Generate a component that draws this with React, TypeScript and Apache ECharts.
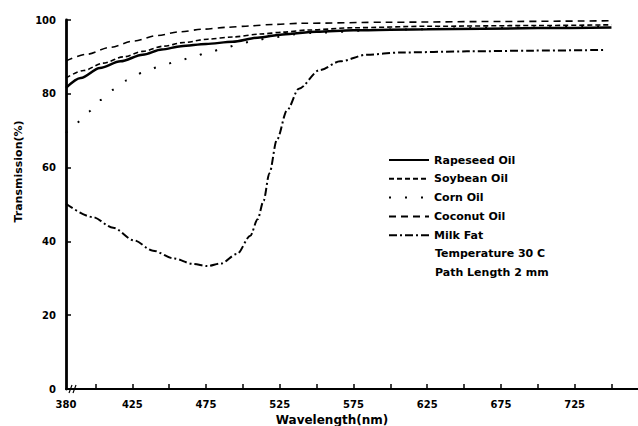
import React, { useEffect, useRef } from "react";
import * as echarts from "echarts";

// Wavelength (nm) and transmission (%)
const rapeseedX = [380, 390, 403, 417, 432, 445, 458, 475, 493, 510, 527, 550, 575, 625, 700, 750];
const rapeseedY = [81.6, 84.3, 87.0, 88.8, 90.6, 92.0, 92.9, 93.5, 94.1, 95.2, 96.1, 96.8, 97.2, 97.5, 97.8, 98.0];

const soybeanX = [380, 392, 405, 419, 432, 446, 460, 476, 493, 512, 527, 545, 575, 625, 700, 750];
const soybeanY = [84.3, 86.3, 88.3, 90.0, 91.5, 92.9, 93.9, 94.8, 95.4, 96.2, 96.7, 97.3, 97.9, 98.3, 98.5, 98.7];

const cornX = [380, 387, 395, 403, 412, 421, 432, 443, 455, 466, 477, 489, 499, 510, 523, 534, 546, 600, 675, 750];
const cornY = [69.4, 72.1, 75.1, 78.3, 81.1, 83.6, 85.7, 87.3, 88.7, 90.0, 91.3, 92.6, 93.7, 94.7, 95.4, 96.1, 96.5, 97.4, 97.9, 98.3];

const coconutX = [380, 394, 410, 426, 442, 457, 473, 489, 505, 520, 539, 600, 675, 750];
const coconutY = [88.9, 90.7, 92.6, 94.3, 95.8, 96.8, 97.5, 98.0, 98.4, 98.8, 99.1, 99.4, 99.6, 99.8];

const milkFatX = [380, 398, 412, 426, 439, 453, 466, 476, 485, 496, 505, 510, 514, 518, 523, 530, 538, 552, 566, 584, 607, 652, 697, 745];
const milkFatY = [50.2, 46.6, 43.7, 40.3, 37.5, 35.4, 33.9, 33.3, 34.0, 36.6, 41.5, 46.0, 51.0, 58.5, 67.5, 75.6, 81.4, 86.4, 88.8, 90.6, 91.2, 91.5, 91.7, 91.9];

const seriesNames = ["Rapeseed Oil", "Soybean Oil", "Corn Oil", "Coconut Oil", "Milk Fat"];
const noteLines = ["Temperature 30 C", "Path Length 2 mm"];

const xTickValues = [400, 425, 450, 475, 500, 525, 550, 575, 600, 625, 650, 675, 700, 725, 750];
const xLabelValues = [380, 425, 475, 525, 575, 625, 675, 725];
const yTickValues = [0, 20, 40, 60, 80, 100];

const zip = (xs: number[], ys: number[]) => xs.map((x, i) => [x, ys[i]]);

const FONT = "DejaVu Sans";

export default function App() {
  const ref = useRef<HTMLDivElement>(null);

  useEffect(() => {
    if (!ref.current) return;
    const chart = echarts.init(ref.current, undefined, { renderer: "svg" });

    const styles: any[] = [
      { type: "solid", width: 2.5 },
      { type: [5, 3], width: 1.6 },
      { type: [2, 14], width: 2 },
      { type: [7, 5], width: 1.6 },
      { type: [8, 3, 2, 3], width: 2 },
    ];
    const datas = [
      zip(rapeseedX, rapeseedY),
      zip(soybeanX, soybeanY),
      zip(cornX, cornY),
      zip(coconutX, coconutY),
      zip(milkFatX, milkFatY),
    ];

    const option: any = {
      animation: false,
      backgroundColor: "#fff",
      textStyle: { fontFamily: FONT },
      grid: {
        left: 66,
        right: 0,
        top: 20,
        bottom: 37,
        containLabel: false,
        outerBoundsMode: "none",
      },
      xAxis: {
        type: "value",
        min: 380,
        max: 768,
        name: "Wavelength(nm)",
        nameLocation: "middle",
        nameGap: 22,
        nameTextStyle: {
          fontFamily: FONT,
          fontWeight: "bold",
          fontSize: 12,
          color: "#000",
          padding: [0, 40, 0, 0],
        },
        axisLine: { show: true, onZero: false, lineStyle: { color: "#000", width: 2 } },
        axisTick: {
          show: true,
          inside: true,
          length: 5,
          customValues: xTickValues,
          lineStyle: { color: "#000", width: 1.5 },
        },
        axisLabel: {
          customValues: xLabelValues,
          margin: 10,
          fontFamily: FONT,
          fontWeight: "bold",
          fontSize: 10,
          color: "#000",
        },
        splitLine: { show: false },
      },
      yAxis: {
        type: "value",
        min: 0,
        max: 100,
        interval: 20,
        name: "Transmission(%)",
        nameLocation: "middle",
        nameGap: 39,
        nameTextStyle: {
          fontFamily: FONT,
          fontWeight: "bold",
          fontSize: 11,
          color: "#000",
          padding: [0, 0, 0, 66],
        },
        axisLine: { show: true, lineStyle: { color: "#000", width: 2.8 } },
        axisTick: {
          show: true,
          inside: true,
          length: 5,
          customValues: yTickValues,
          lineStyle: { color: "#000", width: 1.5 },
        },
        axisLabel: {
          margin: 10,
          fontFamily: FONT,
          fontWeight: "bold",
          fontSize: 10,
          color: "#000",
        },
        splitLine: { show: false },
      },
      legend: {
        orient: "vertical",
        left: 388,
        top: 154,
        padding: 0,
        itemWidth: 40,
        itemHeight: 12,
        itemGap: 6.8,
        itemStyle: { opacity: 0 },
        textStyle: {
          fontFamily: FONT,
          fontWeight: "bold",
          fontSize: 11,
          lineHeight: 12,
          color: "#000",
        },
        data: seriesNames,
      },
      series: seriesNames.map((name, i) => ({
        name,
        type: "line",
        data: datas[i],
        showSymbol: false,
        symbol: "none",
        smooth: 0.3,
        smoothMonotone: "x",
        lineStyle: { color: "#000", ...styles[i] },
        itemStyle: { color: "#000" },
        emphasis: { disabled: true },
      })),
      graphic: [
        ...noteLines.map((t, i) => ({
          type: "text",
          left: 435,
          top: 248 + i * 19,
          style: {
            text: t,
            fontFamily: FONT,
            fontWeight: "bold",
            fontSize: 11,
            fill: "#000",
          },
        })),
        {
          type: "line",
          shape: { x1: 69, y1: 393, x2: 72, y2: 385 },
          style: { stroke: "#000", lineWidth: 1.2 },
        },
        {
          type: "line",
          shape: { x1: 73, y1: 393, x2: 76, y2: 385 },
          style: { stroke: "#000", lineWidth: 1.2 },
        },
      ],
    };

    chart.setOption(option);
    return () => chart.dispose();
  }, []);

  return (
    <div
      ref={ref}
      style={{ position: "fixed", left: 0, top: 0, width: 638, height: 426, background: "#fff" }}
    />
  );
}
